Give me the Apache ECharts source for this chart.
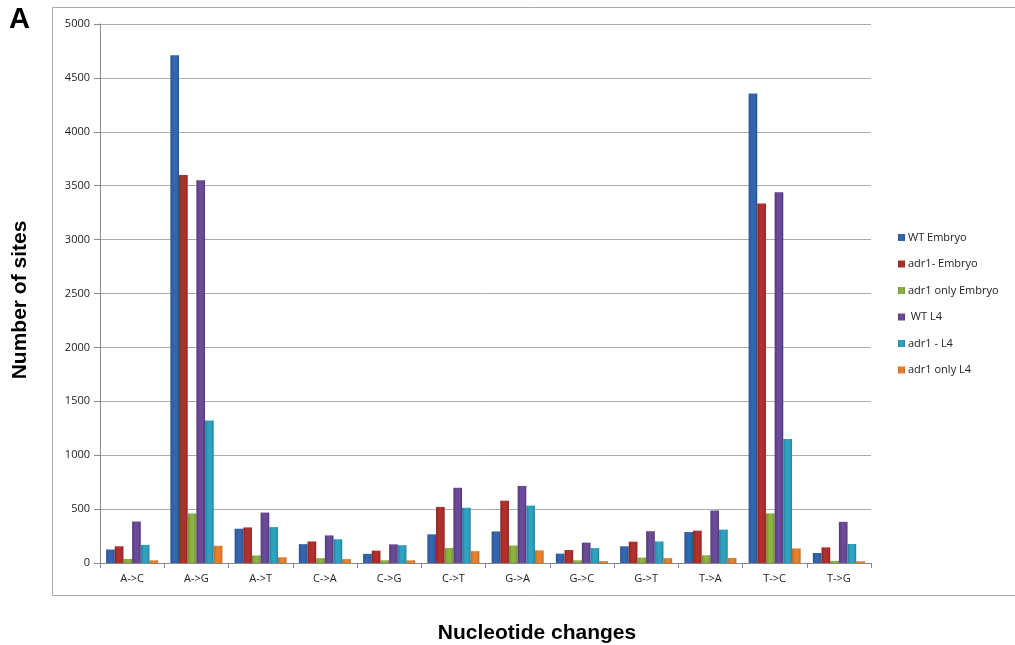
<!DOCTYPE html>
<html>
<head>
<meta charset="utf-8">
<script src="https://cdn.jsdelivr.net/npm/echarts@6/dist/echarts.min.js"></script>
<style>html,body{margin:0;padding:0;background:#fff}#c{width:1015px;height:645px}</style>
</head>
<body>
<div id="c"></div>
<script>
var categories = ['A->C','A->G','A->T','C->A','C->G','C->T','G->A','G->C','G->T','T->A','T->C','T->G'];
var seriesNames = ['WT Embryo','adr1- Embryo','adr1 only Embryo',' WT L4','adr1 - L4','adr1 only L4'];
var wtEmbryo      = [125, 4710, 318, 175,  85, 266, 293,  87, 155, 287, 4355,  93];
var adr1Embryo    = [155, 3600, 330, 200, 115, 520, 578, 120, 198, 300, 3335, 145];
var adr1OnlyEmb   = [ 38,  460,  70,  45,  25, 140, 162,  25,  50,  72,  460,  20];
var wtL4          = [385, 3550, 468, 256, 173, 698, 715, 189, 295, 487, 3440, 382];
var adr1L4        = [168, 1322, 333, 220, 165, 512, 532, 138, 200, 310, 1150, 176];
var adr1OnlyL4    = [ 25,  160,  53,  36,  25, 110, 117,  17,  45,  46,  135,  16];
var yTicks = [0, 500, 1000, 1500, 2000, 2500, 3000, 3500, 4000, 4500, 5000];

var allData = [wtEmbryo, adr1Embryo, adr1OnlyEmb, wtL4, adr1L4, adr1OnlyL4];
var colors = ['#3466AF','#B1302D','#8CB340','#6B4A98','#2FA2C0','#E8812B'];
var dark = ['#2A558F','#8F2422','#719235','#56397C','#23849D','#C66A1E'];

function grad(i){
  return new echarts.graphic.LinearGradient(0,0,1,0,[
    {offset:0,color:dark[i]},{offset:0.35,color:colors[i]},{offset:0.7,color:colors[i]},{offset:1,color:dark[i]}
  ]);
}

var chart = echarts.init(document.getElementById('c'), null, {renderer:'canvas'});
var series = allData.map(function(d,i){
  return {
    name: seriesNames[i], type:'bar', data:d,
    barGap:'0%', barCategoryGap:'19%',
    itemStyle:{color:grad(i)},
    animation:false
  };
});
chart.setOption({
  animation:false,
  textStyle:{fontFamily:'"Open Sans", "DejaVu Sans", sans-serif'},
  color: colors,
  grid:{left:100,right:144,top:24,bottom:82,containLabel:false},
  xAxis:{
    type:'category', data:categories,
    axisLine:{show:true,lineStyle:{color:'#888',width:1}},
    axisTick:{show:true,length:5,lineStyle:{color:'#888'},alignWithLabel:false},
    axisLabel:{color:'#222',fontSize:11,margin:10,fontFamily:'"Open Sans", sans-serif'},
    splitLine:{show:false}
  },
  yAxis:{
    type:'value', min:yTicks[0], max:yTicks[yTicks.length-1], interval:yTicks[1]-yTicks[0],
    axisLine:{show:true,lineStyle:{color:'#888',width:1}},
    axisTick:{show:true,length:6,inside:false,lineStyle:{color:'#888'}},
    axisLabel:{color:'#222',fontSize:11,margin:10,fontFamily:'"Open Sans", sans-serif',
      formatter:function(v){return String(v);}},
    splitLine:{show:true,lineStyle:{color:'#ababab',width:1}}
  },
  legend:{
    orient:'vertical', left:893, top:227, itemGap:15.5,
    itemWidth:7, itemHeight:7, icon:'rect',
    textStyle:{fontSize:11,color:'#222',padding:[0,0,0,-2],fontFamily:'"Open Sans", sans-serif'},
    data: seriesNames
  },
  graphic:[
    {type:'rect',shape:{x:52.5,y:7.5,width:1000,height:588},style:{fill:'none',stroke:'#aaa',lineWidth:1},z:-1,silent:true},
    {type:'text',left:9,top:5,style:{text:'A',font:'bold 29px "Liberation Sans", Arial, sans-serif',fill:'#000'}},
    {type:'text',x:20,y:300,rotation:Math.PI/2,style:{text:'Number of sites',font:'bold 21px "Liberation Sans", Arial, sans-serif',fill:'#000',align:'center',verticalAlign:'middle'}},
    {type:'text',x:537,y:633,style:{text:'Nucleotide changes',font:'bold 21px "Liberation Sans", Arial, sans-serif',fill:'#000',align:'center',verticalAlign:'middle'}}
  ],
  series: series
});
</script>
</body>
</html>
